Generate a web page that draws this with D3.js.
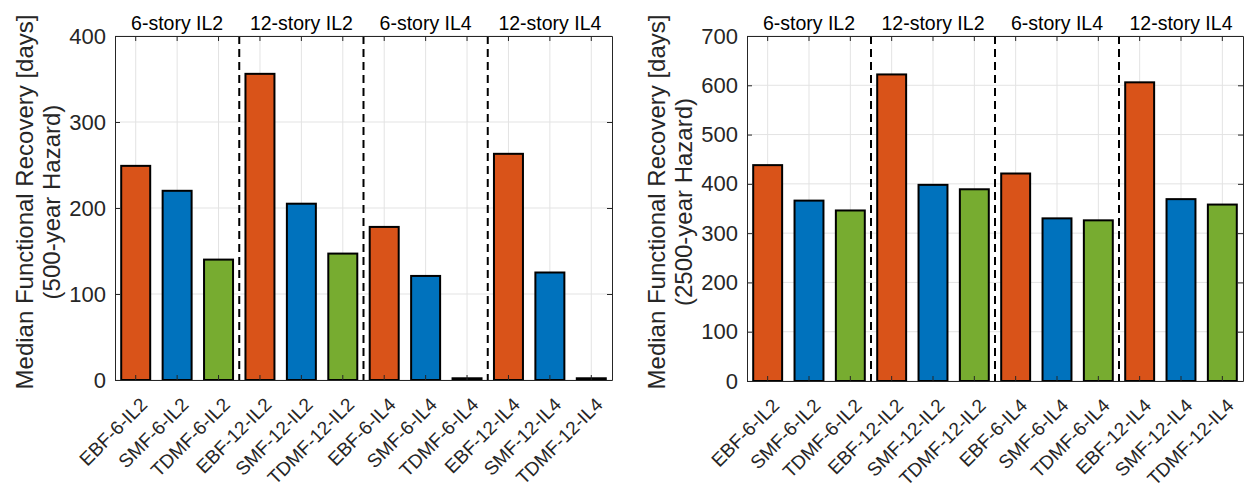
<!DOCTYPE html>
<html>
<head>
<meta charset="utf-8">
<script src="https://cdn.jsdelivr.net/npm/d3@7"></script>
<style>
  body { margin: 0; background: #fff; }
  svg { display: block; font-family: "Liberation Sans", Arial, sans-serif; }
</style>
</head>
<body>
<script>
// building cases, in plot order
var categories = ["EBF-6-IL2", "SMF-6-IL2", "TDMF-6-IL2",
                  "EBF-12-IL2", "SMF-12-IL2", "TDMF-12-IL2",
                  "EBF-6-IL4", "SMF-6-IL4", "TDMF-6-IL4",
                  "EBF-12-IL4", "SMF-12-IL4", "TDMF-12-IL4"];
var groups = ["6-story IL2", "12-story IL2", "6-story IL4", "12-story IL4"];

// median functional recovery [days]
var recovery500 = [249, 220, 140, 356, 205, 147, 178, 121, 2, 263, 125, 2];
var recovery2500 = [438, 366, 346, 622, 398, 389, 421, 330, 326, 606, 369, 358];

var ticks500 = [0, 100, 200, 300, 400];
var ticks2500 = [0, 100, 200, 300, 400, 500, 600, 700];

var systemColors = { EBF: "#D95319", SMF: "#0072BD", TDMF: "#77AC30" };

var W = 1246, H = 492;
var svg = d3.select("body").append("svg")
  .attr("width", W)
  .attr("height", H);

drawPanel({ left: 115, right: 612, top: 36, bottom: 380,
            values: recovery500, ticks: ticks500,
            hazard: "(500-year Hazard)" });
drawPanel({ left: 747, right: 1243, top: 36, bottom: 381,
            values: recovery2500, ticks: ticks2500,
            hazard: "(2500-year Hazard)" });

function drawPanel(p) {
  var axisColor = "#262626";
  var g = svg.append("g");

  var x = d3.scaleBand()
    .domain(categories)
    .range([p.left, p.right])
    .paddingInner(0.3)
    .paddingOuter(0.15);
  var step = x.step();
  var mid = function(d) { return x(d) + x.bandwidth() / 2; };

  var y = d3.scaleLinear()
    .domain([0, d3.max(p.ticks)])
    .range([p.bottom, p.top]);

  // grid
  g.selectAll(".gx").data(categories).enter().append("line")
    .attr("x1", mid).attr("x2", mid)
    .attr("y1", p.top).attr("y2", p.bottom)
    .attr("stroke", "#e3e3e3").attr("stroke-width", 1);
  g.selectAll(".gy").data(p.ticks).enter().append("line")
    .attr("x1", p.left).attr("x2", p.right)
    .attr("y1", function(d) { return y(d); })
    .attr("y2", function(d) { return y(d); })
    .attr("stroke", "#e3e3e3").attr("stroke-width", 1);

  // bars
  g.selectAll(".bar").data(p.values).enter().append("rect")
    .attr("x", function(d, i) { return x(categories[i]); })
    .attr("y", function(d) { return y(d); })
    .attr("width", x.bandwidth())
    .attr("height", function(d) { return y(0) - y(d); })
    .attr("fill", function(d, i) { return systemColors[categories[i].split("-")[0]]; })
    .attr("stroke", "#000")
    .attr("stroke-width", 2);

  // dashed separators between groups
  g.selectAll(".sep").data([3, 6, 9]).enter().append("line")
    .attr("x1", function(d) { return p.left + d * step; })
    .attr("x2", function(d) { return p.left + d * step; })
    .attr("y1", p.top).attr("y2", p.bottom)
    .attr("stroke", "#000")
    .attr("stroke-width", 2)
    .attr("stroke-dasharray", "8,5");

  // axes: box with inward ticks on all sides
  var yAxis = d3.axisLeft(y).tickValues(p.ticks).tickSizeInner(-5).tickSizeOuter(0).tickPadding(9);
  var yAxisR = d3.axisRight(y).tickValues(p.ticks).tickSizeInner(-5).tickSizeOuter(0).tickFormat("");
  var xAxis = d3.axisBottom(x).tickSizeInner(-5).tickSizeOuter(0).tickFormat("");
  var xAxisT = d3.axisTop(x).tickSizeInner(-5).tickSizeOuter(0).tickFormat("");

  var ay = g.append("g").attr("transform", "translate(" + p.left + ",0)").call(yAxis);
  g.append("g").attr("transform", "translate(" + p.right + ",0)").call(yAxisR);
  g.append("g").attr("transform", "translate(0," + p.bottom + ")").call(xAxis);
  g.append("g").attr("transform", "translate(0," + p.top + ")").call(xAxisT);

  g.selectAll(".domain").attr("stroke", axisColor).attr("stroke-width", 1);
  g.selectAll(".tick line").attr("stroke", axisColor);
  ay.selectAll("text")
    .attr("font-size", "22px")
    .attr("fill", axisColor)
    .attr("font-family", "Liberation Sans, Arial, sans-serif");

  // rotated category labels
  g.selectAll(".xl").data(categories).enter().append("text")
    .attr("transform", function(d) {
      return "translate(" + (mid(d) + 8) + "," + (p.bottom + 21) + ") rotate(-45)";
    })
    .attr("text-anchor", "end")
    .attr("dy", "0.35em")
    .attr("font-size", "19px")
    .attr("fill", axisColor)
    .text(function(d) { return d; });

  // group titles
  g.selectAll(".grp").data(groups).enter().append("text")
    .attr("x", function(d, i) { return p.left + (i * 3 + 1.5) * step; })
    .attr("y", p.top - 6)
    .attr("text-anchor", "middle")
    .attr("font-size", "19.5px")
    .attr("fill", "#000")
    .text(function(d) { return d; });

  // y label, two lines
  var lab = g.append("text")
    .attr("transform", "translate(" + (p.left - 82) + "," + 202 + ") rotate(-90)")
    .attr("text-anchor", "middle")
    .attr("font-size", "24px")
    .attr("fill", axisColor);
  lab.append("tspan").attr("x", 0).attr("y", 0).text("Median Functional Recovery [days]");
  lab.append("tspan").attr("x", 0).attr("y", 27).text(p.hazard);
}
</script>
</body>
</html>
